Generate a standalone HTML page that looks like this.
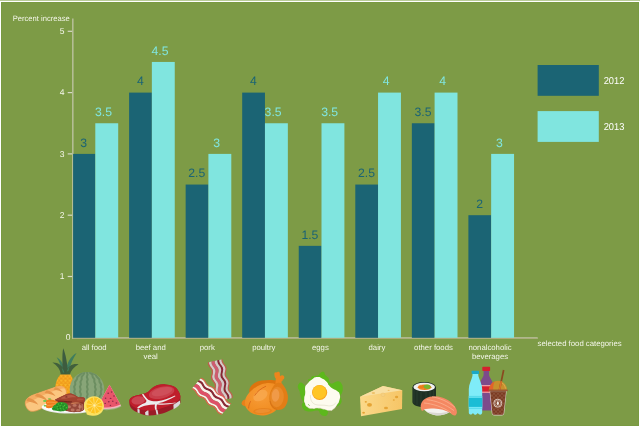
<!DOCTYPE html>
<html lang="en"><head><meta charset="utf-8"><title>Percent increase - selected food categories</title>
<style>
html,body{margin:0;padding:0;background:#fff;}
body{width:640px;height:427px;overflow:hidden;font-family:"Liberation Sans",sans-serif;}
svg{display:block;}
text{font-family:"Liberation Sans",sans-serif;text-rendering:geometricPrecision;}
.t{font-size:7.75px;fill:#f4f6ea;}
.v{font-size:12.2px;}
.lg{font-size:10px;fill:#ffffff;}
</style></head><body>
<svg width="640" height="427" viewBox="0 0 640 427">

<rect x="0" y="0" width="640" height="427" fill="#fff"/>
<rect x="0" y="0" width="640" height="1" fill="#b9cb98"/>
<rect x="1" y="2" width="638" height="424" fill="#799a41"/>
<rect x="2" y="3" width="636" height="422" fill="#7d9b46"/>
<rect x="72.0" y="18.5" width="1.6" height="320.3" fill="#b4bd94"/>
<rect x="72.0" y="337.1" width="465.7" height="1.8" fill="#b4bd94"/>
<rect x="73.2" y="338.0" width="464.5" height="0.9" fill="#abad7c"/>
<rect x="67.7" y="275.90" width="4.4" height="1.2" fill="#d6dac6"/>
<text class="t" style="font-size:8.5px" x="64.4" y="279.30" text-anchor="end">1</text>
<rect x="67.7" y="214.60" width="4.4" height="1.2" fill="#d6dac6"/>
<text class="t" style="font-size:8.5px" x="64.4" y="218.00" text-anchor="end">2</text>
<rect x="67.7" y="153.30" width="4.4" height="1.2" fill="#d6dac6"/>
<text class="t" style="font-size:8.5px" x="64.4" y="156.70" text-anchor="end">3</text>
<rect x="67.7" y="92.00" width="4.4" height="1.2" fill="#d6dac6"/>
<text class="t" style="font-size:8.5px" x="64.4" y="95.40" text-anchor="end">4</text>
<rect x="67.7" y="30.70" width="4.4" height="1.2" fill="#d6dac6"/>
<text class="t" style="font-size:8.5px" x="64.4" y="34.10" text-anchor="end">5</text>
<text class="t" style="font-size:8.5px" x="70.4" y="340.1" text-anchor="end">0</text>
<rect x="73.10" y="153.90" width="22.20" height="183.90" fill="#1b6474"/>
<rect x="95.30" y="123.25" width="22.90" height="214.55" fill="#80e5df"/>
<text class="v" x="83.72" y="146.60" text-anchor="middle" fill="#1b6474">3</text>
<text class="v" x="103.45" y="115.95" text-anchor="middle" fill="#80e5df">3.5</text>
<text class="t" x="94.17" y="349.90" text-anchor="middle">all food</text>
<rect x="129.10" y="92.60" width="22.75" height="245.20" fill="#1b6474"/>
<rect x="151.85" y="61.95" width="22.90" height="275.85" fill="#80e5df"/>
<text class="v" x="140.28" y="85.30" text-anchor="middle" fill="#1b6474">4</text>
<text class="v" x="160.00" y="54.65" text-anchor="middle" fill="#80e5df">4.5</text>
<text class="t" x="150.72" y="349.90" text-anchor="middle">beef and</text>
<text class="t" x="150.72" y="358.90" text-anchor="middle">veal</text>
<rect x="185.65" y="184.55" width="22.75" height="153.25" fill="#1b6474"/>
<rect x="208.40" y="153.90" width="22.90" height="183.90" fill="#80e5df"/>
<text class="v" x="196.82" y="177.25" text-anchor="middle" fill="#1b6474">2.5</text>
<text class="v" x="216.55" y="146.60" text-anchor="middle" fill="#80e5df">3</text>
<text class="t" x="207.27" y="349.90" text-anchor="middle">pork</text>
<rect x="242.20" y="92.60" width="22.75" height="245.20" fill="#1b6474"/>
<rect x="264.95" y="123.25" width="22.90" height="214.55" fill="#80e5df"/>
<text class="v" x="253.38" y="85.30" text-anchor="middle" fill="#1b6474">4</text>
<text class="v" x="273.10" y="115.95" text-anchor="middle" fill="#80e5df">3.5</text>
<text class="t" x="263.82" y="349.90" text-anchor="middle">poultry</text>
<rect x="298.75" y="245.85" width="22.75" height="91.95" fill="#1b6474"/>
<rect x="321.50" y="123.25" width="22.90" height="214.55" fill="#80e5df"/>
<text class="v" x="309.93" y="238.55" text-anchor="middle" fill="#1b6474">1.5</text>
<text class="v" x="329.65" y="115.95" text-anchor="middle" fill="#80e5df">3.5</text>
<text class="t" x="320.38" y="349.90" text-anchor="middle">eggs</text>
<rect x="355.30" y="184.55" width="22.75" height="153.25" fill="#1b6474"/>
<rect x="378.05" y="92.60" width="22.90" height="245.20" fill="#80e5df"/>
<text class="v" x="366.48" y="177.25" text-anchor="middle" fill="#1b6474">2.5</text>
<text class="v" x="386.20" y="85.30" text-anchor="middle" fill="#80e5df">4</text>
<text class="t" x="376.93" y="349.90" text-anchor="middle">dairy</text>
<rect x="411.85" y="123.25" width="22.75" height="214.55" fill="#1b6474"/>
<rect x="434.60" y="92.60" width="22.90" height="245.20" fill="#80e5df"/>
<text class="v" x="423.02" y="115.95" text-anchor="middle" fill="#1b6474">3.5</text>
<text class="v" x="442.75" y="85.30" text-anchor="middle" fill="#80e5df">4</text>
<text class="t" x="433.47" y="349.90" text-anchor="middle">other foods</text>
<rect x="468.40" y="215.20" width="22.75" height="122.60" fill="#1b6474"/>
<rect x="491.15" y="153.90" width="22.90" height="183.90" fill="#80e5df"/>
<text class="v" x="479.57" y="207.90" text-anchor="middle" fill="#1b6474">2</text>
<text class="v" x="499.30" y="146.60" text-anchor="middle" fill="#80e5df">3</text>
<text class="t" x="490.02" y="349.90" text-anchor="middle">nonalcoholic</text>
<text class="t" x="490.02" y="358.90" text-anchor="middle">beverages</text>
<text class="t" x="12.7" y="21.1" textLength="57" lengthAdjust="spacingAndGlyphs">Percent increase</text>
<text class="t" x="537.6" y="345.8">selected food categories</text>
<rect x="537.6" y="65" width="61.2" height="30.8" fill="#1b6474"/>
<rect x="537.6" y="111.1" width="61.2" height="30.8" fill="#80e5df"/>
<text class="lg" transform="translate(603.7,84.1) scale(0.93,1.0)">2012</text>
<text class="lg" transform="translate(603.7,130.2) scale(0.93,1.0)">2013</text>
<defs>
<clipPath id="cpPine"><path d="M60.5,374.5 L70.5,374.5 C74.5,380 75,391 72,400 L57,400 C53.5,391 55,380 60.5,374.5Z"/></clipPath>
<clipPath id="cpMelon"><circle cx="87" cy="389.3" r="17.3"/></clipPath>
<pattern id="pPine" x="55" y="374.5" width="4.2" height="4.4" patternUnits="userSpaceOnUse">
<rect width="4.2" height="4.4" fill="#ef991a"/>
<path d="M0.4,0.6 L3.8,0.6 L2.1,3.2Z" fill="#fab62a"/>
<path d="M-1.7,2.8 L1.7,2.8 L0,5.4Z M2.5,2.8 L5.9,2.8 L4.2,5.4Z M-1.7,-1.6 L1.7,-1.6 L0,1Z M2.5,-1.6 L5.9,-1.6 L4.2,1Z" fill="#f8ae24"/>
</pattern>
<linearGradient id="gCheese" x1="0" y1="0" x2="1" y2="0"><stop offset="0" stop-color="#fbd98a"/><stop offset="1" stop-color="#f6c566"/></linearGradient>
<radialGradient id="gBody" cx="0.45" cy="0.4" r="0.6"><stop offset="0" stop-color="#f79c38"/><stop offset="1" stop-color="#f08b1e"/></radialGradient>
<radialGradient id="gLeg" cx="0.4" cy="0.45" r="0.6"><stop offset="0" stop-color="#f09a48"/><stop offset="0.6" stop-color="#e98623"/><stop offset="1" stop-color="#e27d16"/></radialGradient>
</defs>
<g id="allfood">
<path d="M76.6,353 C71.6,355.6 67.6,361 66,369.6 L69,371 C70.4,364.6 73,358.4 76.6,353Z" fill="#3f7d5e"/>
<path d="M56.6,357.3 C61,359.6 64.4,365 65.6,372.6 L62,372.6 C61.4,366.6 59.4,361.4 56.6,357.3Z" fill="#3f7d5e"/>
<path d="M63.2,348.2 C65.6,354 67.6,363 67.8,374.8 L62.6,374.8 C63,366 61.6,356 63.2,348.2Z" fill="#3d5c3f"/>
<path d="M52.4,362.5 C58,362.2 62.4,365.6 64.6,371 L64,374.8 L60.8,374.8 C60.4,369.6 57.4,365.6 52.4,362.5Z" fill="#41603c"/>
<path d="M78.6,364.2 C72.6,363.2 68.4,366 66,371 L65.6,374.8 L69.8,374.8 C70.8,370.4 73.8,367 78.6,364.2Z" fill="#41603c"/>
<path d="M61.6,367.6 C62.8,369 63.8,370.6 64.4,372.4 L63,372.4Z M69.6,366.4 C68.4,367.8 67.4,369.6 66.8,371.6 L68.4,371Z" fill="#3f7d5e"/>
<rect x="50" y="370" width="30" height="32" fill="url(#pPine)" clip-path="url(#cpPine)"/>
<circle cx="87" cy="389.3" r="17.3" fill="#88a578"/>
<g clip-path="url(#cpMelon)" fill="none" stroke="#6c8e61" stroke-width="2" stroke-linejoin="round">
<path d="M83.0,372.0 L80.2,374.5 L77.4,376.9 L76.9,379.4 L75.1,381.9 L75.3,384.4 L74.1,386.8 L74.8,389.3 L74.1,391.8 L75.3,394.2 L75.1,396.7 L76.9,399.2 L77.4,401.7 L80.2,404.1 L83.0,406.6"/>
<path d="M84.7,372.0 L83.5,374.5 L81.6,376.9 L81.7,379.4 L80.4,381.9 L80.9,384.4 L79.9,386.8 L80.6,389.3 L79.9,391.8 L80.9,394.2 L80.4,396.7 L81.7,399.2 L81.6,401.7 L83.5,404.1 L84.7,406.6"/>
<path d="M86.7,372.0 L87.6,374.5 L86.8,376.9 L87.7,379.4 L86.9,381.9 L87.7,384.4 L86.9,386.8 L87.7,389.3 L86.9,391.8 L87.7,394.2 L86.9,396.7 L87.7,399.2 L86.8,401.7 L87.6,404.1 L86.7,406.6"/>
<path d="M89.0,372.0 L92.2,374.5 L92.7,376.9 L94.4,379.4 L94.3,381.9 L95.5,384.4 L94.9,386.8 L95.8,389.3 L94.9,391.8 L95.5,394.2 L94.3,396.7 L94.4,399.2 L92.7,401.7 L92.2,404.1 L89.0,406.6"/>
<path d="M90.6,372.0 L95.5,374.5 L96.9,376.9 L99.3,379.4 L99.5,381.9 L101.1,384.4 L100.7,386.8 L101.6,389.3 L100.7,391.8 L101.1,394.2 L99.5,396.7 L99.3,399.2 L96.9,401.7 L95.5,404.1 L90.6,406.6"/>
</g>
<g transform="rotate(-22.5 45.8 398.2)">
<path d="M24.4,398.2 C24.4,392.6 28,390.2 36,390.4 L60,391.8 C65,392.2 67.6,394.8 67.6,398.2 C67.6,401.8 65,404.2 60,404.6 L36,406.2 C28,406.6 24.4,404 24.4,398.2Z" fill="#fbc680" stroke="#eb9c52" stroke-width="0.7"/>
<path d="M25.2,395.8 C26.6,392 30,390.2 36,390.4 L60,391.8 C64,392.2 66.4,393.6 67.2,396.2 C62,394.4 52,394 44,394.4 C36,394.8 29,395.2 25.2,395.8Z" fill="#f4ad63"/>
<path d="M29.6,391 C33.2,393 35.6,396.8 36.4,401.4 C33.6,398.4 30.4,395.8 26.6,393.4Z M39.6,390.6 C43.2,393 45.6,396.8 46.4,401.2 C43.6,398.2 40.4,395.6 36.4,392Z M49.6,391.2 C53,393.2 55,396.4 55.6,400.2 C53,397.4 50.4,395.2 46.6,393Z M58.8,391.8 C61.6,393.4 63.2,396.2 63.6,399.2 C61.6,396.8 59.2,395 56,393.4Z" fill="#e6944a"/>
</g>
<path d="M109.5,384.8 L121.4,406.6 C114,410.8 104,411 96.4,408.6Z" fill="#9db585"/>
<path d="M109.5,384.8 L121,405.8 C114,409.6 104,409.9 96.8,407.8Z" fill="#f5b3bd"/>
<path d="M109.5,384.8 L120.3,404.6 C114,407.8 104.4,408.1 97.6,406.4Z" fill="#e8566b"/>
<g fill="#8e2c48"><ellipse cx="108.2" cy="393.3" rx="0.9" ry="0.7"/><ellipse cx="111.6" cy="392" rx="0.8" ry="0.7"/><ellipse cx="105.6" cy="398.2" rx="0.8" ry="0.7"/><ellipse cx="110.6" cy="398.4" rx="0.9" ry="0.7"/><ellipse cx="114" cy="396" rx="0.9" ry="0.7"/><ellipse cx="108.8" cy="401.8" rx="0.9" ry="0.7"/><ellipse cx="112.8" cy="401.2" rx="0.8" ry="0.7"/><ellipse cx="105.2" cy="403.4" rx="0.8" ry="0.7"/><ellipse cx="110.4" cy="405.4" rx="0.8" ry="0.7"/><ellipse cx="116.4" cy="403" rx="0.9" ry="0.7"/></g>
<ellipse cx="70" cy="407.4" rx="28.2" ry="6.2" fill="#e2e2e0"/>
<ellipse cx="70" cy="406.8" rx="28.2" ry="6" fill="#fbfbfa"/>
<path d="M54.9,399.8 L59.8,397.2 L65.7,394.6 C68,393.6 70,393.4 71.7,393.8 C73.6,394.4 75,395.2 76.2,395.9 L78.9,397.6 C80,397.2 81.6,397 82.8,397.3 C84.2,397.6 85,398.2 85,398.8 L84.6,401.1 L84,409.7 C82,411.6 78,412.2 74,412 L66,411 L58,404Z" fill="#8e3628"/>
<path d="M54.9,399.8 L59.8,397.2 L65.7,394.6 C68,393.6 70,393.4 71.7,393.8 C73.6,394.4 75,395.2 76.2,395.9 L78.9,397.6 C80,397.2 81.6,397 82.8,397.3 C84.2,397.6 85,398.2 85,398.8 L84.6,401.6 C81,402.4 77,402.4 73,402 C67,401.6 61,401.6 56.6,401.4Z" fill="#a2432f"/>
<path d="M60.6,398.2 C63.6,396.4 67,395.2 70,394.8 C72.6,395 74.6,396 76.4,397.2 C73,397 70,397.4 66.4,398.4 C64.4,399 62.4,398.8 60.6,398.2Z" fill="#b65a44"/>
<path d="M77,399 C79,398.4 82,398.4 84,399.2 C82,400.4 79,400.6 77,400.2Z" fill="#b2523c"/>
<path d="M56.4,401 C61,401.2 66,401.4 72,402" stroke="#6c2118" stroke-width="0.9" fill="none"/>
<ellipse cx="66.4" cy="396.9" rx="1.1" ry="0.6" fill="#7c2c22"/>
<path d="M66,403.6 C70,402.2 76,402.2 80,402.8 C83,403.4 84.6,405.4 84.4,408 C84,410.6 81,412 77,412 C73,412.4 69,412 67,410.6 C65.4,409 65,406 66,403.6Z" fill="#96483a"/>
<g fill="#bd7460"><ellipse cx="69" cy="406.8" rx="1.9" ry="1.5"/><ellipse cx="74.6" cy="405.4" rx="2" ry="1.4"/><ellipse cx="80" cy="406.8" rx="1.8" ry="1.8"/><ellipse cx="72.6" cy="410" rx="2" ry="1.4"/><ellipse cx="78" cy="410.2" rx="1.8" ry="1.3"/></g>
<path d="M71,403 C74,401.8 78,402 81,403.2 C78,403.4 75,403.6 71.6,404.2Z" fill="#cc7a52"/>
<path d="M79.4,404 L79.8,410.6 M82.2,404 L82.4,410" stroke="#c98a7a" stroke-width="0.6" fill="none"/>
<path d="M43,400.6 C44,399.4 46,399.4 47,400.2 L46.6,402 L43.6,402Z M43.6,405 C44.6,404.4 46,404.6 46.6,405.4 L46,406.6 L44,406.4Z M48,398.6 C49.6,398 51,398.4 51.6,399.4 L49,400.4Z" fill="#73c74d"/>
<path d="M46.4,400.4 C49,399 53,399.4 57.6,401.6 C58.6,402.6 58.4,404 57.4,405 C55,407.4 50,408.6 46.6,408 C45.6,407 45.8,405.6 46.6,404.6 C45.8,403.4 45.6,401.6 46.4,400.4Z" fill="#f07d1c"/>
<path d="M47,402.6 C50,401.8 54,402.2 57,403.2 M47,405.6 C50,405.4 53.6,405 56.4,404.6" stroke="#f9a04a" stroke-width="0.8" fill="none"/>
<path d="M55.6,404.4 C57,402.4 60,401.8 62.6,402.2 C65.6,402.2 67.6,403.6 67.8,405.6 C68.6,407.6 68,409.6 66,410.6 C63,411.8 58,411.6 54.6,410.6 C52,410 51,408.6 52.6,407.4 C53,406 54,405 55.6,404.4Z" fill="#2b9a2b"/>
<g fill="#1d7d22"><circle cx="57" cy="405" r="0.7"/><circle cx="60" cy="404" r="0.7"/><circle cx="63" cy="404.6" r="0.7"/><circle cx="66" cy="406" r="0.7"/><circle cx="58.6" cy="407.4" r="0.7"/><circle cx="61.6" cy="406.8" r="0.7"/><circle cx="64.6" cy="408" r="0.7"/><circle cx="56" cy="409.4" r="0.7"/><circle cx="59.6" cy="410" r="0.7"/><circle cx="62.8" cy="410" r="0.7"/><circle cx="66" cy="409.4" r="0.7"/><circle cx="54" cy="408.6" r="0.7"/></g>
<g fill="#4cc23e"><circle cx="58.4" cy="404" r="0.6"/><circle cx="61.6" cy="403.4" r="0.6"/><circle cx="64.6" cy="405.4" r="0.6"/><circle cx="57.2" cy="406.6" r="0.6"/><circle cx="60.2" cy="405.6" r="0.6"/><circle cx="63.2" cy="406.6" r="0.6"/><circle cx="60.4" cy="408.6" r="0.6"/><circle cx="57.6" cy="409" r="0.6"/><circle cx="63.6" cy="409" r="0.6"/><circle cx="66.6" cy="407.6" r="0.6"/></g>
<path d="M94,396.2 C99.6,396.2 104,400.6 104,406 C104,411.4 99.6,415.8 94,415.8 C91.6,415.8 89.4,415.4 87.6,414.8 C86.6,414.6 86.2,413.6 86.6,412.8 C84.8,411 84,408.6 84,406 C84,400.6 88.4,396.2 94,396.2Z" fill="#fbe160"/>
<circle cx="94.4" cy="405.4" r="8" fill="#fdc41f"/>
<g stroke="#fde486" stroke-width="0.7" fill="none"><path d="M94.4,405.4 L102.2,407.0"/><path d="M94.4,405.4 L99.8,411.3"/><path d="M94.4,405.4 L95.3,413.3"/><path d="M94.4,405.4 L90.5,412.4"/><path d="M94.4,405.4 L87.1,408.7"/><path d="M94.4,405.4 L86.6,403.8"/><path d="M94.4,405.4 L89.0,399.5"/><path d="M94.4,405.4 L93.5,397.5"/><path d="M94.4,405.4 L98.3,398.4"/><path d="M94.4,405.4 L101.7,402.1"/></g>
<circle cx="94.4" cy="405.4" r="1" fill="#fdeeb0"/>
</g>
<g id="beef">
<path d="M129.4,401 C129.4,399 131,397 135.3,395.8 C138,395 140,394.6 141.9,394.2 C144,393.8 146,393.2 147.5,392.3 C149.6,391 150.6,389.4 152.2,388.1 C154,386.6 156,385.6 157.8,385.1 C160,384.4 163,384.2 165.3,384.4 C168,384.6 170.6,385.2 172.8,386.1 C175,387 177,388.6 178,390.5 C179.4,392.6 180.2,394.6 180.4,396.6 L180.5,402.6 C180,404.6 178,406 175.6,407.5 C173,409.2 170,410.6 167.2,411.7 C164,413 161,414 157.8,414.5 C154.6,415.2 151.4,415.6 148.4,415.5 C145,415.4 142,414.4 139,413.1 C136.4,412 134,410.8 132.5,409.4 C130.6,407.8 129.6,405.8 129.4,403.7Z" fill="#9b1b27"/>
<path d="M173.4,404.8 L180,400.4 L180.2,403.6 C179.4,405.4 177.6,406.8 175.6,408 L173.6,409.2Z" fill="#d9d9da"/>
<path d="M137.4,408.6 L139.6,407.4 L139.6,413.2 L137.6,412.4Z M145,412.4 L148.4,409.4 L148.6,415.5 L145.4,415Z M155.6,410 L157.4,409.4 L158.4,414.4 L156.6,414.7Z" fill="#d9d9da"/>
<path d="M129.4,401 C129.4,399 131,397 135.3,395.8 C138,395 140,394.6 141.9,394.2 C144,393.8 146,393.2 147.5,392.3 C149.6,391 150.6,389.4 152.2,388.1 C154,386.6 156,385.6 157.8,385.1 C160,384.4 163,384.2 165.3,384.4 C168,384.6 170.6,385.2 172.8,386.1 C175,387 177,388.6 178,390.5 C179.4,392.6 180.2,394.6 180.4,396.6 C180.4,399 178.4,401 175.6,402.6 C172,404.8 168,406.4 164,407.6 C160,409 156,410 152,410.4 C148,410.8 144,410.6 140,409.6 C136,408.6 132,406.4 130.4,404 C129.6,403 129.4,402 129.4,401Z" fill="#bf1e2b"/>
<path d="M141.9,394.2 L143.4,394 C145,396.4 146.6,398.4 148.6,400 C151,401 154,401.4 157,401.2 C163,400.4 169,398.4 175,395.4 L175.4,396.2 C170,399.6 164,402 158,403.2 C162,403.6 167,403.6 172,403 L176,402.4 L174.8,403.2 C169,404.6 163,405 157,404.4 C156.4,406 156.4,408 157,409.6 L155.4,409.9 C154.6,408 154.6,406 155,404.4 C152,404.6 149,404.8 146,405.4 C143,406 140.6,407 138.6,408.4 L137,408 C139,405.6 142,404 145,403 C146,402.4 146.6,401.6 146.4,400.6 C144.6,398.6 143,396.4 141.9,394.2Z" fill="#ececec"/>
<ellipse cx="161.6" cy="392.6" rx="13" ry="5.8" transform="rotate(-14 161.6 392.6)" fill="#c93f4b"/>
<ellipse cx="162" cy="391.6" rx="10.6" ry="4" transform="rotate(-14 162 391.6)" fill="#cf4f5a"/>
<ellipse cx="138.2" cy="400.4" rx="6.8" ry="4.1" transform="rotate(-8 138.2 400.4)" fill="#cb4652"/>
</g>
<g id="bacon">
<g transform="translate(216.0,360.6) rotate(77.5)">
<path d="M0.0,-6.8 L1.0,-6.5 L2.0,-6.5 L3.0,-6.6 L4.0,-6.9 L5.0,-7.3 L6.0,-7.8 L7.0,-8.2 L8.0,-8.5 L9.0,-8.6 L10.0,-8.6 L11.0,-8.3 L12.0,-7.9 L13.0,-7.4 L14.0,-6.9 L15.0,-6.6 L16.0,-6.5 L17.0,-6.5 L18.0,-6.8 L19.0,-7.2 L20.0,-7.6 L21.0,-8.1 L22.0,-8.4 L23.0,-8.6 L24.0,-8.6 L25.0,-8.4 L26.0,-8.0 L27.0,-7.5 L28.0,-7.1 L29.0,-6.7 L30.0,-6.5 L31.0,-6.5 L32.0,-6.7 L33.0,-7.0 L34.0,-7.5 L35.0,-8.0 L36.0,-8.4 L37.0,-8.6 L38.0,-8.6 L39.0,-8.5 L40.0,-8.1 L40.0,-6.9 L39.0,-7.3 L38.0,-7.4 L37.0,-7.4 L36.0,-7.2 L35.0,-6.8 L34.0,-6.3 L33.0,-5.8 L32.0,-5.5 L31.0,-5.3 L30.0,-5.3 L29.0,-5.5 L28.0,-5.9 L27.0,-6.3 L26.0,-6.8 L25.0,-7.2 L24.0,-7.4 L23.0,-7.4 L22.0,-7.2 L21.0,-6.9 L20.0,-6.4 L19.0,-6.0 L18.0,-5.6 L17.0,-5.3 L16.0,-5.3 L15.0,-5.4 L14.0,-5.7 L13.0,-6.2 L12.0,-6.7 L11.0,-7.1 L10.0,-7.4 L9.0,-7.4 L8.0,-7.3 L7.0,-7.0 L6.0,-6.6 L5.0,-6.1 L4.0,-5.7 L3.0,-5.4 L2.0,-5.3 L1.0,-5.3 L0.0,-5.6Z" fill="#c9574e"/>
<path d="M0.0,-5.6 L1.0,-5.3 L2.0,-5.3 L3.0,-5.4 L4.0,-5.7 L5.0,-6.1 L6.0,-6.6 L7.0,-7.0 L8.0,-7.3 L9.0,-7.4 L10.0,-7.4 L11.0,-7.1 L12.0,-6.7 L13.0,-6.2 L14.0,-5.7 L15.0,-5.4 L16.0,-5.3 L17.0,-5.3 L18.0,-5.6 L19.0,-6.0 L20.0,-6.4 L21.0,-6.9 L22.0,-7.2 L23.0,-7.4 L24.0,-7.4 L25.0,-7.2 L26.0,-6.8 L27.0,-6.3 L28.0,-5.9 L29.0,-5.5 L30.0,-5.3 L31.0,-5.3 L32.0,-5.5 L33.0,-5.8 L34.0,-6.3 L35.0,-6.8 L36.0,-7.2 L37.0,-7.4 L38.0,-7.4 L39.0,-7.3 L40.0,-6.9 L40.0,-4.6 L39.0,-5.0 L38.0,-5.1 L37.0,-5.1 L36.0,-4.9 L35.0,-4.5 L34.0,-4.0 L33.0,-3.5 L32.0,-3.2 L31.0,-3.0 L30.0,-3.0 L29.0,-3.2 L28.0,-3.6 L27.0,-4.0 L26.0,-4.5 L25.0,-4.9 L24.0,-5.1 L23.0,-5.1 L22.0,-4.9 L21.0,-4.6 L20.0,-4.1 L19.0,-3.7 L18.0,-3.3 L17.0,-3.0 L16.0,-3.0 L15.0,-3.1 L14.0,-3.4 L13.0,-3.9 L12.0,-4.4 L11.0,-4.8 L10.0,-5.1 L9.0,-5.1 L8.0,-5.0 L7.0,-4.7 L6.0,-4.3 L5.0,-3.8 L4.0,-3.4 L3.0,-3.1 L2.0,-3.0 L1.0,-3.0 L0.0,-3.3Z" fill="#d6c6ca"/>
<path d="M0.0,-3.3 L1.0,-3.0 L2.0,-3.0 L3.0,-3.1 L4.0,-3.4 L5.0,-3.8 L6.0,-4.3 L7.0,-4.7 L8.0,-5.0 L9.0,-5.1 L10.0,-5.1 L11.0,-4.8 L12.0,-4.4 L13.0,-3.9 L14.0,-3.4 L15.0,-3.1 L16.0,-3.0 L17.0,-3.0 L18.0,-3.3 L19.0,-3.7 L20.0,-4.1 L21.0,-4.6 L22.0,-4.9 L23.0,-5.1 L24.0,-5.1 L25.0,-4.9 L26.0,-4.5 L27.0,-4.0 L28.0,-3.6 L29.0,-3.2 L30.0,-3.0 L31.0,-3.0 L32.0,-3.2 L33.0,-3.5 L34.0,-4.0 L35.0,-4.5 L36.0,-4.9 L37.0,-5.1 L38.0,-5.1 L39.0,-5.0 L40.0,-4.6 L40.0,-2.6 L39.0,-3.0 L38.0,-3.1 L37.0,-3.1 L36.0,-2.9 L35.0,-2.5 L34.0,-2.0 L33.0,-1.5 L32.0,-1.2 L31.0,-1.0 L30.0,-1.0 L29.0,-1.2 L28.0,-1.6 L27.0,-2.0 L26.0,-2.5 L25.0,-2.9 L24.0,-3.1 L23.0,-3.1 L22.0,-2.9 L21.0,-2.6 L20.0,-2.1 L19.0,-1.7 L18.0,-1.3 L17.0,-1.0 L16.0,-1.0 L15.0,-1.1 L14.0,-1.4 L13.0,-1.9 L12.0,-2.4 L11.0,-2.8 L10.0,-3.1 L9.0,-3.1 L8.0,-3.0 L7.0,-2.7 L6.0,-2.3 L5.0,-1.8 L4.0,-1.4 L3.0,-1.1 L2.0,-1.0 L1.0,-1.0 L0.0,-1.3Z" fill="#8b2237"/>
<path d="M0.0,-1.3 L1.0,-1.0 L2.0,-1.0 L3.0,-1.1 L4.0,-1.4 L5.0,-1.8 L6.0,-2.3 L7.0,-2.7 L8.0,-3.0 L9.0,-3.1 L10.0,-3.1 L11.0,-2.8 L12.0,-2.4 L13.0,-1.9 L14.0,-1.4 L15.0,-1.1 L16.0,-1.0 L17.0,-1.0 L18.0,-1.3 L19.0,-1.7 L20.0,-2.1 L21.0,-2.6 L22.0,-2.9 L23.0,-3.1 L24.0,-3.1 L25.0,-2.9 L26.0,-2.5 L27.0,-2.0 L28.0,-1.6 L29.0,-1.2 L30.0,-1.0 L31.0,-1.0 L32.0,-1.2 L33.0,-1.5 L34.0,-2.0 L35.0,-2.5 L36.0,-2.9 L37.0,-3.1 L38.0,-3.1 L39.0,-3.0 L40.0,-2.6 L40.0,-0.0 L39.0,-0.4 L38.0,-0.5 L37.0,-0.5 L36.0,-0.3 L35.0,0.1 L34.0,0.6 L33.0,1.1 L32.0,1.4 L31.0,1.6 L30.0,1.6 L29.0,1.4 L28.0,1.0 L27.0,0.6 L26.0,0.1 L25.0,-0.3 L24.0,-0.5 L23.0,-0.5 L22.0,-0.3 L21.0,0.0 L20.0,0.5 L19.0,0.9 L18.0,1.3 L17.0,1.6 L16.0,1.6 L15.0,1.5 L14.0,1.2 L13.0,0.7 L12.0,0.2 L11.0,-0.2 L10.0,-0.5 L9.0,-0.5 L8.0,-0.4 L7.0,-0.1 L6.0,0.3 L5.0,0.8 L4.0,1.2 L3.0,1.5 L2.0,1.6 L1.0,1.6 L0.0,1.3Z" fill="#d6c6ca"/>
<path d="M0.0,1.3 L1.0,1.6 L2.0,1.6 L3.0,1.5 L4.0,1.2 L5.0,0.8 L6.0,0.3 L7.0,-0.1 L8.0,-0.4 L9.0,-0.5 L10.0,-0.5 L11.0,-0.2 L12.0,0.2 L13.0,0.7 L14.0,1.2 L15.0,1.5 L16.0,1.6 L17.0,1.6 L18.0,1.3 L19.0,0.9 L20.0,0.5 L21.0,0.0 L22.0,-0.3 L23.0,-0.5 L24.0,-0.5 L25.0,-0.3 L26.0,0.1 L27.0,0.6 L28.0,1.0 L29.0,1.4 L30.0,1.6 L31.0,1.6 L32.0,1.4 L33.0,1.1 L34.0,0.6 L35.0,0.1 L36.0,-0.3 L37.0,-0.5 L38.0,-0.5 L39.0,-0.4 L40.0,-0.0 L40.0,3.4 L39.0,3.0 L38.0,2.9 L37.0,2.9 L36.0,3.1 L35.0,3.5 L34.0,4.0 L33.0,4.5 L32.0,4.8 L31.0,5.0 L30.0,5.0 L29.0,4.8 L28.0,4.4 L27.0,4.0 L26.0,3.5 L25.0,3.1 L24.0,2.9 L23.0,2.9 L22.0,3.1 L21.0,3.4 L20.0,3.9 L19.0,4.3 L18.0,4.7 L17.0,5.0 L16.0,5.0 L15.0,4.9 L14.0,4.6 L13.0,4.1 L12.0,3.6 L11.0,3.2 L10.0,2.9 L9.0,2.9 L8.0,3.0 L7.0,3.3 L6.0,3.7 L5.0,4.2 L4.0,4.6 L3.0,4.9 L2.0,5.0 L1.0,5.0 L0.0,4.7Z" fill="#cf5a70"/>
<path d="M0.0,4.7 L1.0,5.0 L2.0,5.0 L3.0,4.9 L4.0,4.6 L5.0,4.2 L6.0,3.7 L7.0,3.3 L8.0,3.0 L9.0,2.9 L10.0,2.9 L11.0,3.2 L12.0,3.6 L13.0,4.1 L14.0,4.6 L15.0,4.9 L16.0,5.0 L17.0,5.0 L18.0,4.7 L19.0,4.3 L20.0,3.9 L21.0,3.4 L22.0,3.1 L23.0,2.9 L24.0,2.9 L25.0,3.1 L26.0,3.5 L27.0,4.0 L28.0,4.4 L29.0,4.8 L30.0,5.0 L31.0,5.0 L32.0,4.8 L33.0,4.5 L34.0,4.0 L35.0,3.5 L36.0,3.1 L37.0,2.9 L38.0,2.9 L39.0,3.0 L40.0,3.4 L40.0,5.8 L39.0,5.4 L38.0,5.3 L37.0,5.3 L36.0,5.5 L35.0,5.9 L34.0,6.4 L33.0,6.9 L32.0,7.2 L31.0,7.4 L30.0,7.4 L29.0,7.2 L28.0,6.8 L27.0,6.4 L26.0,5.9 L25.0,5.5 L24.0,5.3 L23.0,5.3 L22.0,5.5 L21.0,5.8 L20.0,6.3 L19.0,6.7 L18.0,7.1 L17.0,7.4 L16.0,7.4 L15.0,7.3 L14.0,7.0 L13.0,6.5 L12.0,6.0 L11.0,5.6 L10.0,5.3 L9.0,5.3 L8.0,5.4 L7.0,5.7 L6.0,6.1 L5.0,6.6 L4.0,7.0 L3.0,7.3 L2.0,7.4 L1.0,7.4 L0.0,7.1Z" fill="#d6c6ca"/>
<path d="M0.0,7.1 L1.0,7.4 L2.0,7.4 L3.0,7.3 L4.0,7.0 L5.0,6.6 L6.0,6.1 L7.0,5.7 L8.0,5.4 L9.0,5.3 L10.0,5.3 L11.0,5.6 L12.0,6.0 L13.0,6.5 L14.0,7.0 L15.0,7.3 L16.0,7.4 L17.0,7.4 L18.0,7.1 L19.0,6.7 L20.0,6.3 L21.0,5.8 L22.0,5.5 L23.0,5.3 L24.0,5.3 L25.0,5.5 L26.0,5.9 L27.0,6.4 L28.0,6.8 L29.0,7.2 L30.0,7.4 L31.0,7.4 L32.0,7.2 L33.0,6.9 L34.0,6.4 L35.0,5.9 L36.0,5.5 L37.0,5.3 L38.0,5.3 L39.0,5.4 L40.0,5.8 L40.0,7.0 L39.0,6.6 L38.0,6.5 L37.0,6.5 L36.0,6.7 L35.0,7.1 L34.0,7.6 L33.0,8.1 L32.0,8.4 L31.0,8.6 L30.0,8.6 L29.0,8.4 L28.0,8.0 L27.0,7.6 L26.0,7.1 L25.0,6.7 L24.0,6.5 L23.0,6.5 L22.0,6.7 L21.0,7.0 L20.0,7.5 L19.0,7.9 L18.0,8.3 L17.0,8.6 L16.0,8.6 L15.0,8.5 L14.0,8.2 L13.0,7.7 L12.0,7.2 L11.0,6.8 L10.0,6.5 L9.0,6.5 L8.0,6.6 L7.0,6.9 L6.0,7.3 L5.0,7.8 L4.0,8.2 L3.0,8.5 L2.0,8.6 L1.0,8.6 L0.0,8.3Z" fill="#c9574e"/>
</g>
<g transform="translate(196.2,383.5) rotate(40.5)">
<path d="M0.0,-7.6 L1.0,-7.9 L2.0,-8.2 L3.0,-8.2 L4.0,-8.2 L5.0,-7.9 L5.9,-7.6 L6.9,-7.2 L7.9,-6.9 L8.9,-6.7 L9.9,-6.7 L10.9,-6.8 L11.9,-7.1 L12.9,-7.5 L13.9,-7.8 L14.8,-8.1 L15.8,-8.2 L16.8,-8.2 L17.8,-8.0 L18.8,-7.7 L19.8,-7.3 L20.8,-7.0 L21.8,-6.7 L22.8,-6.7 L23.8,-6.7 L24.8,-7.0 L25.7,-7.3 L26.7,-7.7 L27.7,-8.0 L28.7,-8.2 L29.7,-8.2 L30.7,-8.1 L31.7,-7.8 L32.7,-7.4 L33.7,-7.1 L34.6,-6.8 L35.6,-6.7 L36.6,-6.7 L37.6,-6.9 L38.6,-7.2 L39.6,-7.6 L39.6,-6.4 L38.6,-6.0 L37.6,-5.7 L36.6,-5.5 L35.6,-5.5 L34.6,-5.6 L33.7,-5.9 L32.7,-6.2 L31.7,-6.6 L30.7,-6.9 L29.7,-7.0 L28.7,-7.0 L27.7,-6.8 L26.7,-6.5 L25.7,-6.1 L24.8,-5.8 L23.8,-5.5 L22.8,-5.5 L21.8,-5.5 L20.8,-5.8 L19.8,-6.1 L18.8,-6.5 L17.8,-6.8 L16.8,-7.0 L15.8,-7.0 L14.8,-6.9 L13.9,-6.6 L12.9,-6.3 L11.9,-5.9 L10.9,-5.6 L9.9,-5.5 L8.9,-5.5 L7.9,-5.7 L6.9,-6.0 L5.9,-6.4 L5.0,-6.7 L4.0,-7.0 L3.0,-7.0 L2.0,-7.0 L1.0,-6.7 L0.0,-6.4Z" fill="#e0624c"/>
<path d="M0.0,-6.4 L1.0,-6.7 L2.0,-7.0 L3.0,-7.0 L4.0,-7.0 L5.0,-6.7 L5.9,-6.4 L6.9,-6.0 L7.9,-5.7 L8.9,-5.5 L9.9,-5.5 L10.9,-5.6 L11.9,-5.9 L12.9,-6.3 L13.9,-6.6 L14.8,-6.9 L15.8,-7.0 L16.8,-7.0 L17.8,-6.8 L18.8,-6.5 L19.8,-6.1 L20.8,-5.8 L21.8,-5.5 L22.8,-5.5 L23.8,-5.5 L24.8,-5.8 L25.7,-6.1 L26.7,-6.5 L27.7,-6.8 L28.7,-7.0 L29.7,-7.0 L30.7,-6.9 L31.7,-6.6 L32.7,-6.2 L33.7,-5.9 L34.6,-5.6 L35.6,-5.5 L36.6,-5.5 L37.6,-5.7 L38.6,-6.0 L39.6,-6.4 L39.6,-4.3 L38.6,-3.9 L37.6,-3.6 L36.6,-3.4 L35.6,-3.4 L34.6,-3.5 L33.7,-3.8 L32.7,-4.1 L31.7,-4.5 L30.7,-4.8 L29.7,-4.9 L28.7,-4.9 L27.7,-4.7 L26.7,-4.4 L25.7,-4.0 L24.8,-3.7 L23.8,-3.4 L22.8,-3.4 L21.8,-3.4 L20.8,-3.7 L19.8,-4.0 L18.8,-4.4 L17.8,-4.7 L16.8,-4.9 L15.8,-4.9 L14.8,-4.8 L13.9,-4.5 L12.9,-4.2 L11.9,-3.8 L10.9,-3.5 L9.9,-3.4 L8.9,-3.4 L7.9,-3.6 L6.9,-3.9 L5.9,-4.3 L5.0,-4.6 L4.0,-4.9 L3.0,-4.9 L2.0,-4.9 L1.0,-4.6 L0.0,-4.3Z" fill="#fbf0ee"/>
<path d="M0.0,-4.3 L1.0,-4.6 L2.0,-4.9 L3.0,-4.9 L4.0,-4.9 L5.0,-4.6 L5.9,-4.3 L6.9,-3.9 L7.9,-3.6 L8.9,-3.4 L9.9,-3.4 L10.9,-3.5 L11.9,-3.8 L12.9,-4.2 L13.9,-4.5 L14.8,-4.8 L15.8,-4.9 L16.8,-4.9 L17.8,-4.7 L18.8,-4.4 L19.8,-4.0 L20.8,-3.7 L21.8,-3.4 L22.8,-3.4 L23.8,-3.4 L24.8,-3.7 L25.7,-4.0 L26.7,-4.4 L27.7,-4.7 L28.7,-4.9 L29.7,-4.9 L30.7,-4.8 L31.7,-4.5 L32.7,-4.1 L33.7,-3.8 L34.6,-3.5 L35.6,-3.4 L36.6,-3.4 L37.6,-3.6 L38.6,-3.9 L39.6,-4.3 L39.6,-2.2 L38.6,-1.8 L37.6,-1.5 L36.6,-1.3 L35.6,-1.3 L34.6,-1.4 L33.7,-1.7 L32.7,-2.0 L31.7,-2.4 L30.7,-2.7 L29.7,-2.8 L28.7,-2.8 L27.7,-2.6 L26.7,-2.3 L25.7,-1.9 L24.8,-1.6 L23.8,-1.3 L22.8,-1.3 L21.8,-1.3 L20.8,-1.6 L19.8,-1.9 L18.8,-2.3 L17.8,-2.6 L16.8,-2.8 L15.8,-2.8 L14.8,-2.7 L13.9,-2.4 L12.9,-2.1 L11.9,-1.7 L10.9,-1.4 L9.9,-1.3 L8.9,-1.3 L7.9,-1.5 L6.9,-1.8 L5.9,-2.2 L5.0,-2.5 L4.0,-2.8 L3.0,-2.8 L2.0,-2.8 L1.0,-2.5 L0.0,-2.2Z" fill="#8d2438"/>
<path d="M0.0,-2.2 L1.0,-2.5 L2.0,-2.8 L3.0,-2.8 L4.0,-2.8 L5.0,-2.5 L5.9,-2.2 L6.9,-1.8 L7.9,-1.5 L8.9,-1.3 L9.9,-1.3 L10.9,-1.4 L11.9,-1.7 L12.9,-2.1 L13.9,-2.4 L14.8,-2.7 L15.8,-2.8 L16.8,-2.8 L17.8,-2.6 L18.8,-2.3 L19.8,-1.9 L20.8,-1.6 L21.8,-1.3 L22.8,-1.3 L23.8,-1.3 L24.8,-1.6 L25.7,-1.9 L26.7,-2.3 L27.7,-2.6 L28.7,-2.8 L29.7,-2.8 L30.7,-2.7 L31.7,-2.4 L32.7,-2.0 L33.7,-1.7 L34.6,-1.4 L35.6,-1.3 L36.6,-1.3 L37.6,-1.5 L38.6,-1.8 L39.6,-2.2 L39.6,0.5 L38.6,0.9 L37.6,1.2 L36.6,1.4 L35.6,1.4 L34.6,1.3 L33.7,1.0 L32.7,0.7 L31.7,0.3 L30.7,0.0 L29.7,-0.1 L28.7,-0.1 L27.7,0.1 L26.7,0.4 L25.7,0.8 L24.8,1.1 L23.8,1.4 L22.8,1.4 L21.8,1.4 L20.8,1.1 L19.8,0.8 L18.8,0.4 L17.8,0.1 L16.8,-0.1 L15.8,-0.1 L14.8,0.0 L13.9,0.3 L12.9,0.6 L11.9,1.0 L10.9,1.3 L9.9,1.4 L8.9,1.4 L7.9,1.2 L6.9,0.9 L5.9,0.5 L5.0,0.2 L4.0,-0.1 L3.0,-0.1 L2.0,-0.1 L1.0,0.2 L0.0,0.5Z" fill="#fbf0ee"/>
<path d="M0.0,0.5 L1.0,0.2 L2.0,-0.1 L3.0,-0.1 L4.0,-0.1 L5.0,0.2 L5.9,0.5 L6.9,0.9 L7.9,1.2 L8.9,1.4 L9.9,1.4 L10.9,1.3 L11.9,1.0 L12.9,0.6 L13.9,0.3 L14.8,0.0 L15.8,-0.1 L16.8,-0.1 L17.8,0.1 L18.8,0.4 L19.8,0.8 L20.8,1.1 L21.8,1.4 L22.8,1.4 L23.8,1.4 L24.8,1.1 L25.7,0.8 L26.7,0.4 L27.7,0.1 L28.7,-0.1 L29.7,-0.1 L30.7,0.0 L31.7,0.3 L32.7,0.7 L33.7,1.0 L34.6,1.3 L35.6,1.4 L36.6,1.4 L37.6,1.2 L38.6,0.9 L39.6,0.5 L39.6,4.3 L38.6,4.7 L37.6,5.0 L36.6,5.2 L35.6,5.2 L34.6,5.1 L33.7,4.8 L32.7,4.5 L31.7,4.1 L30.7,3.8 L29.7,3.7 L28.7,3.7 L27.7,3.9 L26.7,4.2 L25.7,4.6 L24.8,4.9 L23.8,5.2 L22.8,5.2 L21.8,5.2 L20.8,4.9 L19.8,4.6 L18.8,4.2 L17.8,3.9 L16.8,3.7 L15.8,3.7 L14.8,3.8 L13.9,4.1 L12.9,4.4 L11.9,4.8 L10.9,5.1 L9.9,5.2 L8.9,5.2 L7.9,5.0 L6.9,4.7 L5.9,4.3 L5.0,4.0 L4.0,3.7 L3.0,3.7 L2.0,3.7 L1.0,4.0 L0.0,4.3Z" fill="#de5068"/>
<path d="M0.0,4.3 L1.0,4.0 L2.0,3.7 L3.0,3.7 L4.0,3.7 L5.0,4.0 L5.9,4.3 L6.9,4.7 L7.9,5.0 L8.9,5.2 L9.9,5.2 L10.9,5.1 L11.9,4.8 L12.9,4.4 L13.9,4.1 L14.8,3.8 L15.8,3.7 L16.8,3.7 L17.8,3.9 L18.8,4.2 L19.8,4.6 L20.8,4.9 L21.8,5.2 L22.8,5.2 L23.8,5.2 L24.8,4.9 L25.7,4.6 L26.7,4.2 L27.7,3.9 L28.7,3.7 L29.7,3.7 L30.7,3.8 L31.7,4.1 L32.7,4.5 L33.7,4.8 L34.6,5.1 L35.6,5.2 L36.6,5.2 L37.6,5.0 L38.6,4.7 L39.6,4.3 L39.6,6.1 L38.6,6.5 L37.6,6.8 L36.6,7.0 L35.6,7.0 L34.6,6.9 L33.7,6.6 L32.7,6.3 L31.7,5.9 L30.7,5.6 L29.7,5.5 L28.7,5.5 L27.7,5.7 L26.7,6.0 L25.7,6.4 L24.8,6.7 L23.8,7.0 L22.8,7.0 L21.8,7.0 L20.8,6.7 L19.8,6.4 L18.8,6.0 L17.8,5.7 L16.8,5.5 L15.8,5.5 L14.8,5.6 L13.9,5.9 L12.9,6.2 L11.9,6.6 L10.9,6.9 L9.9,7.0 L8.9,7.0 L7.9,6.8 L6.9,6.5 L5.9,6.1 L5.0,5.8 L4.0,5.5 L3.0,5.5 L2.0,5.5 L1.0,5.8 L0.0,6.1Z" fill="#fbf0ee"/>
<path d="M0.0,6.1 L1.0,5.8 L2.0,5.5 L3.0,5.5 L4.0,5.5 L5.0,5.8 L5.9,6.1 L6.9,6.5 L7.9,6.8 L8.9,7.0 L9.9,7.0 L10.9,6.9 L11.9,6.6 L12.9,6.2 L13.9,5.9 L14.8,5.6 L15.8,5.5 L16.8,5.5 L17.8,5.7 L18.8,6.0 L19.8,6.4 L20.8,6.7 L21.8,7.0 L22.8,7.0 L23.8,7.0 L24.8,6.7 L25.7,6.4 L26.7,6.0 L27.7,5.7 L28.7,5.5 L29.7,5.5 L30.7,5.6 L31.7,5.9 L32.7,6.3 L33.7,6.6 L34.6,6.9 L35.6,7.0 L36.6,7.0 L37.6,6.8 L38.6,6.5 L39.6,6.1 L39.6,7.3 L38.6,7.7 L37.6,8.0 L36.6,8.2 L35.6,8.2 L34.6,8.1 L33.7,7.8 L32.7,7.5 L31.7,7.1 L30.7,6.8 L29.7,6.7 L28.7,6.7 L27.7,6.9 L26.7,7.2 L25.7,7.6 L24.8,7.9 L23.8,8.2 L22.8,8.2 L21.8,8.2 L20.8,7.9 L19.8,7.6 L18.8,7.2 L17.8,6.9 L16.8,6.7 L15.8,6.7 L14.8,6.8 L13.9,7.1 L12.9,7.4 L11.9,7.8 L10.9,8.1 L9.9,8.2 L8.9,8.2 L7.9,8.0 L6.9,7.7 L5.9,7.3 L5.0,7.0 L4.0,6.7 L3.0,6.7 L2.0,6.7 L1.0,7.0 L0.0,7.3Z" fill="#e0624c"/>
</g>
</g>
<g id="chicken">
<path d="M249.2,392 C248.8,386.4 254.6,381.8 261.4,380.6 C267,379.8 273,379.8 277,380.6 L276,388 L252,395Z" fill="#dc740e"/>
<path d="M241.6,403.6 C241.6,401.6 243,400 245,399.6 L247,406 C245,406.6 242,405.8 241.6,403.6Z" fill="#e8801a"/>
<path d="M245,404 C244,396.6 251.4,388.6 261,384.4 C267,382.2 273,382.4 277,385 C281,389 282,397 280,404 C278,410 272,414.6 264,415.4 C256,416 250,413 247,409 C245.6,407.4 245.2,405.6 245,404Z" fill="url(#gBody)"/>
<ellipse cx="260.4" cy="395.6" rx="7.6" ry="5" transform="rotate(-30 260.4 395.6)" fill="#f9ab52" opacity="0.7"/>
<path d="M254.6,395.6 C257,391.6 261,388.4 266,386.2" stroke="#d8661a" stroke-width="0.9" fill="none"/>
<path d="M250.6,401.2 C249.4,403.6 248.6,406 248.6,408.4" stroke="#d8661a" stroke-width="0.9" fill="none"/>
<ellipse cx="262.6" cy="411" rx="9.4" ry="3" transform="rotate(-4 262.6 411)" fill="#e8841f"/>
<ellipse cx="262.6" cy="411" rx="7.6" ry="2" transform="rotate(-4 262.6 411)" fill="#ec8f30"/>
<path d="M274.4,374.4 C274,372.8 275.4,371.8 276.8,372.6 C277.2,371.4 279.6,371.4 279.8,373 L280,376.2 C281.2,375 283.2,374.8 284,376.2 C284.8,377.6 284.2,379.4 282.6,379.8 C283,380.6 282.4,381.4 281.4,381.4 L282,387 L275.2,387 L275.8,378.4 C274.8,377.6 274.4,375.8 274.4,374.4Z" fill="#ee851c"/>
<path d="M275.5,383.6 C273.5,386 270.6,390 269.6,395 C268.8,400 269.8,405 272.6,408 C275,410.4 281,410.6 284,408 C287,405 288.4,400 287.8,395.6 C287,390.6 284.6,386.6 282,383.6 C280,382.6 277.4,382.6 275.5,383.6Z" fill="#e27d16"/>
<ellipse cx="277" cy="397" rx="6.8" ry="10.2" transform="rotate(4 277 397)" fill="#e98a28"/>
<ellipse cx="275.6" cy="395.4" rx="3.8" ry="6.4" transform="rotate(4 275.6 395.4)" fill="#f09a48"/>
<path d="M270,401 C270.6,405 273,408.6 277,409.6" stroke="#c96a18" stroke-width="0.7" fill="none" opacity="0.7"/>
</g>
<g id="egg">
<path d="M320.2,372.9 C321.6,372.0 322.5,371.4 323.8,371.9 C325.1,372.4 324.3,373.5 325.1,374.7 C325.8,375.9 325.7,375.3 326.6,376.3 C327.6,377.3 328.0,377.1 328.7,378.4 C329.4,379.7 328.7,379.8 329.3,381.2 C330.0,382.6 329.9,383.2 331.1,383.6 C332.4,384.0 332.7,383.2 334.2,382.6 C335.7,382.0 335.3,381.7 336.6,381.4 C338.0,381.1 338.0,381.0 339.3,381.6 C340.6,382.3 340.6,382.3 341.5,383.8 C342.4,385.4 342.6,385.2 342.7,387.5 C342.9,389.8 342.8,390.1 342.1,392.4 C341.5,394.6 340.4,394.1 340.3,396.0 C340.1,398.0 341.3,397.7 341.5,399.7 C341.7,401.6 341.7,401.7 340.9,403.3 C340.1,404.9 339.9,404.8 338.5,405.8 C337.0,406.7 336.9,406.0 335.4,407.0 C334.0,408.0 334.8,408.4 333.0,409.4 C331.2,410.4 330.3,409.2 328.7,410.6 C327.2,412.1 328.6,413.5 327.1,414.9 C325.7,416.3 325.1,416.1 323.2,415.7 C321.4,415.4 321.3,414.9 320.2,413.7 C319.1,412.5 320.1,412.1 319.0,411.2 C317.8,410.4 318.0,410.6 315.9,410.6 C313.8,410.7 313.7,411.4 311.1,411.5 C308.5,411.5 308.3,411.6 306.2,410.9 C304.1,410.2 304.3,410.5 303.1,408.8 C302.0,407.1 301.9,406.3 301.9,404.5 C301.9,402.8 303.3,403.7 303.1,402.1 C303.0,400.5 302.1,400.6 301.3,398.5 C300.5,396.3 300.6,396.1 300.1,394.2 C299.6,392.2 300.1,392.9 299.5,391.1 C298.9,389.4 298.1,389.4 297.9,387.5 C297.7,385.5 298.0,385.1 298.9,383.8 C299.8,382.5 299.8,382.3 301.3,382.6 C302.8,382.9 303.1,384.1 304.4,385.1 C305.6,386.0 304.8,386.9 305.9,386.0 C307.1,385.1 308.1,383.4 308.6,381.6 C309.2,379.9 307.4,380.4 308.0,379.6 C308.7,378.7 310.1,379.2 311.1,378.4 C312.0,377.5 310.7,377.2 311.7,376.5 C312.6,375.9 312.9,376.2 314.7,375.9 C316.5,375.6 316.9,376.1 318.4,375.3 C319.8,374.5 318.7,373.8 320.2,372.9Z" fill="#5db81c"/>
<path d="M317.1,377.8 C320.4,377.6 319.0,377.6 322.0,379.1 C325.1,380.5 323.8,379.7 326.3,382.1 C328.7,384.5 327.1,383.9 329.3,386.4 C331.6,388.8 330.3,387.6 333.0,389.4 C335.6,391.2 335.0,389.8 337.2,391.8 C339.5,393.9 339.0,392.7 339.7,395.5 C340.4,398.3 340.2,397.1 339.3,400.4 C338.4,403.6 338.9,402.2 336.9,405.2 C334.8,408.3 335.7,407.6 333.2,409.5 C330.7,411.4 332.2,410.8 329.3,410.8 C326.4,410.9 328.1,410.4 324.5,409.6 C320.8,408.8 322.4,408.7 318.4,408.4 C314.3,408.1 315.9,409.2 312.3,408.8 C308.6,408.4 309.8,409.0 307.4,407.2 C305.0,405.4 306.0,406.1 305.0,403.4 C303.9,400.7 304.2,402.6 304.4,399.2 C304.5,395.7 305.2,396.7 305.4,393.1 C305.7,389.4 304.5,391.1 305.2,388.2 C305.9,385.3 305.3,387.1 307.6,384.3 C310.0,381.5 309.1,382.1 312.3,379.9 C315.4,377.8 313.9,378.1 317.1,377.8Z" fill="#dcd9c0"/>
<path d="M317.1,377.1 C320.4,376.9 319.0,376.9 322.0,378.4 C325.1,379.8 323.8,379.0 326.3,381.4 C328.7,383.8 327.1,383.2 329.3,385.7 C331.6,388.1 330.3,386.9 333.0,388.7 C335.6,390.5 335.0,389.1 337.2,391.1 C339.5,393.2 339.0,392.0 339.7,394.8 C340.4,397.6 340.2,396.4 339.3,399.7 C338.4,402.9 338.9,401.5 336.9,404.5 C334.8,407.6 335.7,406.9 333.2,408.8 C330.7,410.7 332.2,410.1 329.3,410.1 C326.4,410.2 328.1,409.7 324.5,408.9 C320.8,408.1 322.4,408.0 318.4,407.7 C314.3,407.4 315.9,408.5 312.3,408.1 C308.6,407.7 309.8,408.3 307.4,406.5 C305.0,404.7 306.0,405.4 305.0,402.7 C303.9,400.0 304.2,401.9 304.4,398.5 C304.5,395.0 305.2,396.0 305.4,392.4 C305.7,388.7 304.5,390.4 305.2,387.5 C305.9,384.6 305.3,386.4 307.6,383.6 C310.0,380.8 309.1,381.4 312.3,379.2 C315.4,377.1 313.9,377.4 317.1,377.1Z" fill="#fdfbef"/>
<path d="M310.4,395 C310.2,399.6 311.6,403 315,404.4 C319,405.8 323,404.6 327,405.6 C330.6,406.4 334,405.6 336,402.6" stroke="#ece9d6" stroke-width="1" fill="none"/>
<circle cx="319.6" cy="392.5" r="7.6" fill="#f8a21b"/>
<circle cx="319.4" cy="392.1" r="6.9" fill="#ffc524"/>
<path d="M308.2,404.2 L309.6,405.8" stroke="#6ab33a" stroke-width="0.7"/>
</g>
<g id="cheese">
<path d="M360,396.7 L383,386 L402.3,390.2 L402,409 L361,416.2Z" fill="url(#gCheese)"/>
<path d="M360,396.7 L383,386 L402.3,390.2 C388,392.4 374,394.6 360,396.7Z" fill="#f8dfa2"/>
<g fill="#e5a435"><ellipse cx="369.5" cy="404.8" rx="2.5" ry="1.9"/><ellipse cx="365.8" cy="401.8" rx="1.1" ry="0.9"/><ellipse cx="363.6" cy="412.8" rx="1.4" ry="1"/><ellipse cx="386" cy="408" rx="2" ry="1.2"/><ellipse cx="396.6" cy="397" rx="1.6" ry="1.2"/><ellipse cx="393.8" cy="400" rx="1" ry="0.8"/></g>
<g fill="#efc069"><ellipse cx="373.4" cy="393" rx="1.7" ry="1"/><ellipse cx="388.6" cy="390.4" rx="1" ry="0.7"/></g>
<ellipse cx="383" cy="394.8" rx="2" ry="1.9" fill="#f5cf80" stroke="#ecc06a" stroke-width="0.4"/>
</g>
<g id="sushi">
<path d="M412.4,387 L412.4,402 C412.4,405 417.6,407 424.2,407 C430.8,407 436,405 436,402 L436,387Z" fill="#1f3024"/>
<path d="M414,389 L414,403 M417,390.6 L417,405 M421,391.6 L421,406 M426,391.8 L426,406 M430,391.2 L430,405.6 M433.6,390 L433.6,404" stroke="#2c4232" stroke-width="0.7"/>
<ellipse cx="424.2" cy="387" rx="11.6" ry="5" fill="#1f3024"/>
<ellipse cx="424.2" cy="387" rx="10.8" ry="4.3" fill="#eff1f0"/>
<ellipse cx="424.6" cy="387.2" rx="6.8" ry="2.8" fill="#ef7a19"/>
<path d="M423.4,386.6 C424,384.6 427,384 429.4,385 C431.4,386 431,388 429,388.8 C427,389.4 424,388.6 423.4,386.6Z" fill="#77b52e"/>
<path d="M418.4,386 C419.4,385 421,385 422,385.6 M419,388.6 C420.6,389.2 422.6,389.2 424,388.8" stroke="#f9a04a" stroke-width="0.6" fill="none"/>
<path d="M424,407.6 C428,406 440,406 448,408.6 L449.6,412 C446,414.6 440,415.8 436,415.4 C431,414.8 426.6,412.6 424,409.6Z" fill="#f3f2ee"/>
<path d="M426,411.6 C430,414.4 436,415.8 442,415 C445,414.6 447.6,413.6 449.6,412 L449.4,411 C444,413.6 434,413.6 426,411.6Z" fill="#d9d7d0"/>
<path d="M421.6,410.4 C419.6,406 421,401 425.6,398.4 C430,396 436,395.6 442,397.4 C448,399.2 453,403 455.8,408 C457.4,411 457.4,414 455.4,415.4 C453.6,416 452,414.6 450.4,413 C446,410 440,408.6 434,408.4 C430,408.4 426,408.4 424,409.4 C423.4,410.6 422.6,411.2 421.6,410.4Z" fill="#f48862"/>
<path d="M424,403 C432,403.6 442,406.6 451,412.6 M426.6,399.6 C436,400.6 446,404.6 454,410.6 M432,396.8 C440,398 448,401.6 455,407.4" stroke="#fbb896" stroke-width="0.7" fill="none"/>
</g>
<g id="drinks">
<path d="M483.6,370.6 L489,370.6 L489,375 C489.6,378 493.2,381 493.2,385.6 L493.2,410.4 L479.6,410.4 L479.6,385.6 C479.6,381 483,378 483.6,375Z" fill="#7d4a8b"/>
<rect x="479.6" y="385" width="13.6" height="7.8" fill="#d6202e"/>
<rect x="479.6" y="385" width="13.6" height="1.3" fill="#ee9aa5"/>
<rect x="479.6" y="391.6" width="13.6" height="1.3" fill="#ee9aa5"/>
<rect x="482.3" y="366.8" width="7.8" height="4.2" rx="0.7" fill="#d6202e"/>
<path d="M472.6,373.6 L478.2,373.6 L478.4,376 C479.4,380 482.2,384 482.2,389 L482.2,412.6 C482.2,414 481,414.8 480,414.6 C479,414.6 478.2,413.6 477.8,413 C477,414.2 476,414.8 475.4,414.8 C474.6,414.8 473.6,414.2 473,413 C472.6,413.8 471.6,414.6 470.8,414.6 C469.8,414.6 468.8,414 468.8,412.6 L468.8,389 C468.8,384 471.6,380 472.4,376Z" fill="#7fecf8"/>
<rect x="468.8" y="396.4" width="13.4" height="11.8" fill="#7fecf8"/>
<rect x="468.8" y="397.7" width="13.4" height="9.2" fill="#1bbdd5"/>
<rect x="468.8" y="395.9" width="13.4" height="0.9" fill="#4fd6e8"/>
<rect x="468.8" y="407.8" width="13.4" height="0.9" fill="#4fd6e8"/>
<rect x="471.7" y="370.7" width="7.3" height="3.4" rx="0.6" fill="#1ba8c6"/>
<path d="M489.2,390 C489.2,385 493,380.8 498,380.8 C503,380.8 507,385 507,390Z" fill="#c8902c"/>
<path d="M489.2,390 C489.2,386 491.4,382.6 494.6,381.4 C493.4,384 493,387 493.2,390Z" fill="#e2622a"/>
<path d="M500.6,382 C503,383 505,385.6 505.6,388.6" stroke="#e0b45a" stroke-width="0.8" fill="none"/>
<path d="M502.8,369.8 L504.5,370.3 L500.3,390 L498.6,390Z" fill="#8a4a20"/>
<path d="M500.5,381 L502.2,381.2 L500.3,390 L498.6,390Z" fill="#d9742a"/>
<rect x="488.4" y="389.6" width="19.4" height="1.7" rx="0.5" fill="#9a5a36"/>
<path d="M489.6,391.2 L506.6,391.2 L504.2,413.6 C504,414.8 503,415.4 502,415.4 L494,415.4 C493,415.4 492,414.8 491.8,413.6Z" fill="#d8cfc8"/>
<path d="M490.2,391.2 L506,391.2 L503.6,413.2 C503.4,414.2 502.6,414.8 501.8,414.8 L494.2,414.8 C493.4,414.8 492.6,414.2 492.4,413.2Z" fill="#7a3a22"/>
<clipPath id="cpCup"><path d="M490.2,391.2 L506,391.2 L503.6,413.2 C503.4,414.2 502.6,414.8 501.8,414.8 L494.2,414.8 C493.4,414.8 492.6,414.2 492.4,413.2Z"/></clipPath>
<g stroke="#a06a52" stroke-width="0.55" fill="none" clip-path="url(#cpCup)"><path d="M464.0,391.6 L488.0,415.6 M488.0,391.6 L464.0,415.6 M468.0,391.6 L492.0,415.6 M492.0,391.6 L468.0,415.6 M472.0,391.6 L496.0,415.6 M496.0,391.6 L472.0,415.6 M476.0,391.6 L500.0,415.6 M500.0,391.6 L476.0,415.6 M480.0,391.6 L504.0,415.6 M504.0,391.6 L480.0,415.6 M484.0,391.6 L508.0,415.6 M508.0,391.6 L484.0,415.6 M488.0,391.6 L512.0,415.6 M512.0,391.6 L488.0,415.6 M492.0,391.6 L516.0,415.6 M516.0,391.6 L492.0,415.6 M496.0,391.6 L520.0,415.6 M520.0,391.6 L496.0,415.6 M500.0,391.6 L524.0,415.6 M524.0,391.6 L500.0,415.6 M504.0,391.6 L528.0,415.6 M528.0,391.6 L504.0,415.6 M508.0,391.6 L532.0,415.6 M532.0,391.6 L508.0,415.6 M512.0,391.6 L536.0,415.6 M536.0,391.6 L512.0,415.6 M516.0,391.6 L540.0,415.6 M540.0,391.6 L516.0,415.6 M520.0,391.6 L544.0,415.6 M544.0,391.6 L520.0,415.6 M524.0,391.6 L548.0,415.6 M548.0,391.6 L524.0,415.6 M528.0,391.6 L552.0,415.6 M552.0,391.6 L528.0,415.6 M532.0,391.6 L556.0,415.6 M556.0,391.6 L532.0,415.6"/></g>
<circle cx="497.8" cy="403.2" r="4" fill="#7a3a22" stroke="#f3ece6" stroke-width="0.8"/>
<circle cx="497.8" cy="403.2" r="2.8" fill="none" stroke="#e8dcd4" stroke-width="0.5"/>
<ellipse cx="497.8" cy="403.2" rx="1.1" ry="1.9" fill="#f3ece6"/>
</g>
</svg></body></html>
